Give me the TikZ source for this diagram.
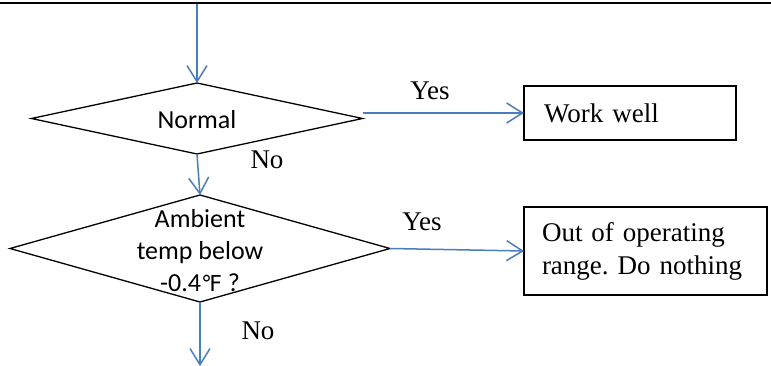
\documentclass[tikz,border=0pt]{standalone}
\usepackage{fontspec}
\setmainfont{Liberation Serif}
\newfontfamily\carlito{Carlito}
\newfontfamily\dejavu{DejaVu Sans}
\usetikzlibrary{shapes.geometric,arrows.meta}
\definecolor{flowblue}{RGB}{74,126,187}
\frenchspacing
\tikzset{
  decision/.style={shape=diamond, draw=black, line width=1.3pt, inner sep=0pt, outer sep=0pt},
  resultbox/.style={draw=black, line width=1.6pt, inner ysep=0pt, outer sep=0pt, align=left,
     font=\fontsize{27}{33}\selectfont},
  flow/.style={draw=flowblue, line width=1.5pt, -{Straight Barb[length=16pt,width=20pt,line width=1.5pt]}},
  sanslabel/.style={font=\carlito\fontsize{26}{32}\selectfont, align=center, inner sep=0pt},
  seriflabel/.style={font=\fontsize{27}{33}\selectfont, inner sep=0pt}
}
\begin{document}
\begin{tikzpicture}[x=1pt,y=-1pt]
\useasboundingbox (0,0) rectangle (771,366);
\draw[line width=2pt] (0,3) -- (771,3);
\coordinate (start) at (197,4);
\coordinate (finish) at (200,366);
% decision 1
\node[decision, minimum width=331pt, minimum height=71pt] (d1) at (197,118.5) {};
\node[sanslabel] (t1) at (197,120) {Normal};
% decision 2
\node[decision, minimum width=380pt, minimum height=107pt] (d2) at (200,248.5) {};
\node[sanslabel] (t2) at (200,251) {Ambient\\temp below\\-0.4{\dejavu\fontsize{22}{32}\selectfont ℉}\ ?};
% boxes
\node[resultbox, inner xsep=20pt, text width=172pt, minimum height=54pt] (b1) at (630,113) {Work well};
\node[resultbox, inner xsep=18pt, text width=207pt, minimum height=88pt] (b2) at (645.5,251) {Out of operating\\range. Do nothing};
% connectors
\draw[flow] (start) -- (d1.north);
\draw[flow] (d1.south) -- (d2.north);
\draw[flow] (d1.east |- b1.west) -- (b1.west);
\draw[flow] (d2.east) -- (b2.west);
\draw[flow] (d2.south) -- (finish);
% labels
\node[seriflabel] (y1) at (430,91) {Yes};
\node[seriflabel] (y2) at (422,222) {Yes};
\node[seriflabel] (n1) at (267,160) {No};
\node[seriflabel] (n2) at (258,331) {No};
\end{tikzpicture}
\end{document}
